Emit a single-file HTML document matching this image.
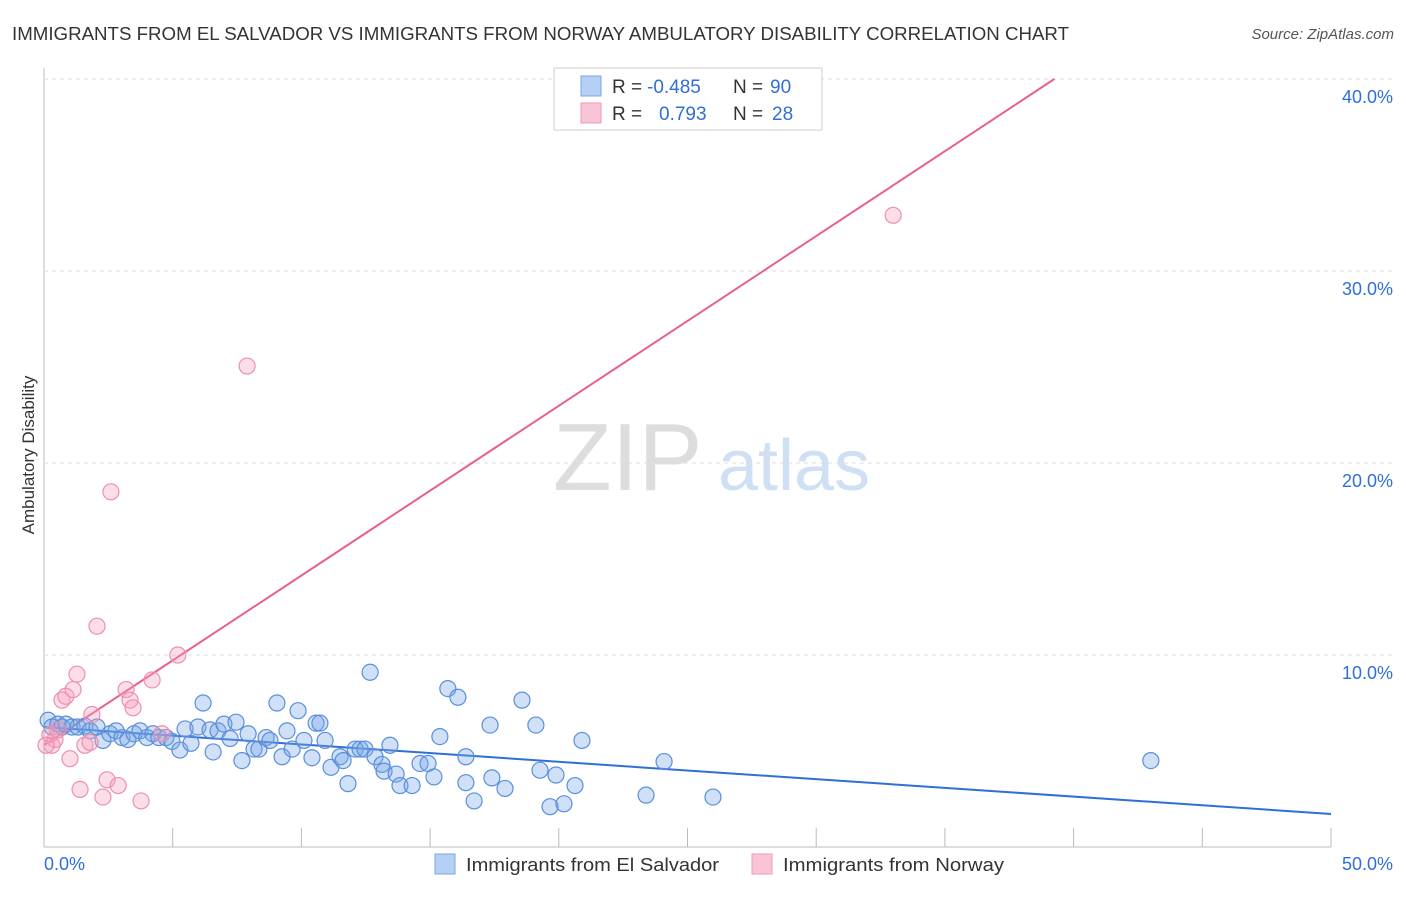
<!DOCTYPE html>
<html><head><meta charset="utf-8"><style>
body{margin:0;background:#fff;font-family:"Liberation Sans",sans-serif}
svg text{font-family:"Liberation Sans",sans-serif}
</style></head><body>
<svg id="c" width="1406" height="892">
<text x="12" y="40" font-size="18" fill="#333" textLength="1057" lengthAdjust="spacingAndGlyphs">IMMIGRANTS FROM EL SALVADOR VS IMMIGRANTS FROM NORWAY AMBULATORY DISABILITY CORRELATION CHART</text>
<text x="1394" y="39" font-size="15" fill="#555" font-style="italic" text-anchor="end">Source: ZipAtlas.com</text>
<text transform="translate(34,455) rotate(-90)" font-size="17" fill="#333" text-anchor="middle">Ambulatory Disability</text>
<g><text x="553" y="490" font-size="96" fill="#ddd" font-family="Liberation Serif">ZIP</text><text x="718" y="490" font-size="72" fill="#cfe0f5">atlas</text></g>
<g id="grid"></g><g id="lines"></g><g id="pts"></g>
<g>
<rect x="554" y="68" width="268" height="62" fill="#fff" stroke="#ccc"/>
<rect x="581" y="76" width="20" height="20" fill="#b6d0f5" stroke="#7aa6e6"/>
<rect x="581" y="103" width="20" height="20" fill="#f9c5d6" stroke="#ee9ab6"/>
<text x="612" y="93" font-size="19" fill="#333">R =</text>
<text x="647" y="93" font-size="19" fill="#2f6fd6">-0.485</text>
<text x="733" y="93" font-size="19" fill="#333">N =</text>
<text x="770" y="93" font-size="19" fill="#2f6fd6">90</text>
<text x="612" y="120" font-size="19" fill="#333">R =</text>
<text x="659" y="120" font-size="19" fill="#2f6fd6">0.793</text>
<text x="733" y="120" font-size="19" fill="#333">N =</text>
<text x="772" y="120" font-size="19" fill="#2f6fd6">28</text>
</g>
<g>
<rect x="435" y="854" width="20" height="20" fill="#b6d0f5" stroke="#7aa6e6"/>
<text x="466" y="871" font-size="18" fill="#333" textLength="253" lengthAdjust="spacingAndGlyphs">Immigrants from El Salvador</text>
<rect x="752" y="854" width="20" height="20" fill="#f9c5d6" stroke="#ee9ab6"/>
<text x="783" y="871" font-size="18" fill="#333" textLength="221" lengthAdjust="spacingAndGlyphs">Immigrants from Norway</text>
</g>
</svg>
<script>
const yTicks=[10,20,30,40];
const yTickLabels=["10.0%","20.0%","30.0%","40.0%"];
const xTickLabels=["0.0%","50.0%"];
const blueX=[0.16,0.31,0.54,0.70,0.85,1.09,1.32,1.59,1.79,2.06,2.29,2.56,2.80,3.03,3.26,3.50,3.73,4.00,4.23,4.46,4.74,4.97,5.28,5.48,5.71,5.98,6.18,6.45,6.57,6.76,6.99,7.23,7.46,7.69,7.93,8.16,8.35,8.63,8.78,9.05,9.25,9.44,9.64,9.87,10.10,10.41,10.57,10.72,10.92,11.15,11.50,11.62,11.81,12.09,12.28,12.47,12.67,12.86,13.13,13.21,13.44,13.68,13.83,14.30,14.61,14.92,15.15,15.38,15.69,16.08,16.39,16.39,16.71,17.33,17.40,17.91,18.57,19.11,19.27,19.66,19.89,20.20,20.63,20.90,23.39,24.09,25.99,43.00];
const blueY=[6.6,6.25,6.4,6.25,6.4,6.25,6.25,6.3,6.05,6.25,5.55,5.9,6.05,5.7,5.6,5.9,6.05,5.7,5.9,5.7,5.7,5.5,5.05,6.15,5.4,6.25,7.5,6.1,4.95,6.05,6.4,5.65,6.5,4.5,5.9,5.1,5.1,5.7,5.55,7.5,4.7,6.05,5.1,7.1,5.55,4.65,6.45,6.45,5.55,4.15,4.7,4.5,3.3,5.1,5.1,5.1,9.1,4.7,4.3,3.95,5.3,3.8,3.2,3.2,4.35,4.35,3.65,5.75,8.25,7.8,4.7,3.35,2.4,6.35,3.6,3.05,7.65,6.35,4.0,2.1,3.75,2.25,3.2,5.55,2.7,4.45,2.6,4.5];
const pinkX=[0.23,0.31,0.43,0.54,0.70,0.85,1.01,1.13,1.28,1.40,1.59,1.79,1.86,2.06,2.29,2.45,2.60,2.88,3.19,3.34,3.46,3.77,4.20,4.58,5.20,7.89,32.99,0.08];
const pinkY=[5.85,5.3,5.6,6.1,7.65,7.85,4.6,8.2,9.0,3.0,5.3,5.45,6.9,11.5,2.6,3.5,18.5,3.2,8.2,7.65,7.25,2.4,8.7,5.9,10.0,25.05,32.9,5.3];
const blueFit=[6.25,1.72];
const pinkFit=[5.3,0.884];
const X=v=>44+v*25.74, Y=v=>847-v*19.2;
const NS="http://www.w3.org/2000/svg";
function mk(p,t,a){const e=document.createElementNS(NS,t);for(const k in a)e.setAttribute(k,a[k]);document.getElementById(p).appendChild(e);return e;}
const tx=[0,5,10,15,20,25,30,35,40,45,50];
tx.forEach((v,i)=>{const e=mk('grid','line',{x1:X(v),x2:X(v),y1:828,y2:847,stroke:'#bbb'});

});
const ax=mk('grid','line',{x1:44,x2:1331,y1:847,y2:847,stroke:'#bbb'});


const ay=mk('grid','line',{x1:44,x2:44,y1:68,y2:847,stroke:'#bbb'});


yTicks.forEach((v,i)=>{const g=mk('grid','line',{x1:44,x2:1394,y1:Y(v),y2:Y(v),stroke:'#ddd','stroke-dasharray':'4,4'});


const t=mk('grid','text',{x:1393,y:Y(v)+24,'font-size':18,fill:'#2f6fd6','text-anchor':'end'});t.textContent=yTickLabels[i];

});
[[0,'start',44],[1,'end',1393]].forEach(([i,a,x])=>{const t=mk('grid','text',{x:x,y:870,'font-size':18,fill:'#2f6fd6','text-anchor':a});t.textContent=xTickLabels[i];

});
const bl=mk('lines','line',{x1:X(0),y1:Y(blueFit[0]),x2:X(50),y2:Y(blueFit[1]),stroke:'#2f6fd6','stroke-width':2});


const xe=(40-pinkFit[0])/pinkFit[1];
const pl=mk('lines','line',{x1:X(0),y1:Y(pinkFit[0]),x2:X(xe),y2:Y(40),stroke:'#e8608c','stroke-width':2});


blueX.forEach((v,i)=>{const c=mk('pts','circle',{cx:X(v),cy:Y(blueY[i]),r:8,fill:'rgba(120,165,230,0.35)',stroke:'#5a8fdc','stroke-width':1.2});

});
pinkX.forEach((v,i)=>{const c=mk('pts','circle',{cx:X(v),cy:Y(pinkY[i]),r:8,fill:'rgba(245,160,190,0.35)',stroke:'#ec8fb0','stroke-width':1.2});

});
</script>
</body></html>
